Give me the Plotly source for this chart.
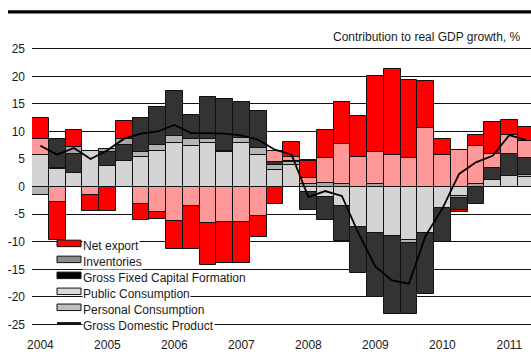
import plotly.graph_objects as go

# Quarterly contributions to real GDP growth, percentage points (2004Q1 .. 2011Q2)
quarters = list(range(30))
year_labels = ["2004", "2005", "2006", "2007", "2008", "2009", "2010", "2011"]
year_ticks = [0, 4, 8, 12, 16, 20, 24, 28]
y_ticks = [25, 20, 15, 10, 5, 0, -5, -10, -15, -20, -25]
y_labels = ["25", "20", "15", "10", "5", "0", "-5", "-10", "-15", "-20", "-25"]

personal = [5.7, 3.2, 2.5, 6.5, 3.8, 4.6, 5.4, 6.5, 8.0, 7.4,
            8.0, 6.3, 8.0, 5.8, 3.0, 4.0, -1.0, -1.9, -3.6, -7.4,
            -8.45, -8.9, -9.65, -8.45, -3.9, -1.75, 0.0, 1.2, 2.0, 1.8]
public = [-1.5, 0.2, 0.0, 0.0, 0.0, 0.0, 0.8, 1.1, 1.2, 1.2,
          0.6, 0.2, 0.8, 1.2, 1.0, 0.4, 0.0, 0.0, 0.0, 0.0,
          0.0, 0.0, -0.6, 0.0, 0.0, -0.3, 0.0, 0.0, 0.0, 0.3]
gfcf = [0.0, 5.3, 3.4, 0.0, 2.4, 3.0, 6.3, 6.9, 8.2, 4.4,
        7.7, 9.4, 6.6, 6.8, 0.4, 0.3, -3.2, -4.1, -6.3, -8.3,
        -11.5, -14.2, -12.8, -11.1, -6.2, -2.1, -3.1, 2.1, 3.9, 3.1]
inventories = [0.0, 0.0, 1.2, 0.0, 0.6, 1.0, 0.0, 0.0, 0.0, 0.0,
               0.0, 0.0, 0.0, 0.0, 0.0, 0.0, 0.5, 0.6, 0.5, 0.0,
               0.4, 0.0, 0.0, 0.0, 0.0, 0.0, 0.5, 0.0, 0.0, 0.0]
other = [3.0, -2.7, 0.0, -1.45, 0.0, 0.0, -3.1, -4.65, -6.2, -3.6,
         -6.65, -6.45, -6.35, -5.25, 2.1, 0.7, 1.0, 4.6, 7.2, 5.3,
         5.8, 5.8, 5.2, 10.6, 5.7, 6.6, 6.9, 2.6, 3.4, 3.1]
net_export = [3.8, -7.0, 3.1, -3.0, -4.5, 3.3, -3.0, -1.2, -5.1, -7.7,
              -7.5, -7.4, -7.55, -3.8, -3.1, 2.7, 3.1, 5.1, 7.6, 7.5,
              13.9, 15.5, 14.2, 8.5, 3.0, -0.5, 2.0, 5.9, 2.7, 2.6]
gdp = [7.4, 5.8, 7.0, 5.0, 6.6, 8.7, 9.6, 10.0, 11.2, 9.7,
       9.7, 9.6, 9.3, 8.5, 6.7, 5.8, -1.9, -0.8, -1.7, -8.5,
       -14.5, -17.0, -17.6, -8.9, -4.0, 2.3, 4.4, 5.6, 9.35, 8.45]

# canvas geometry (pixels) used to place the decorations in paper space
W, H = 531, 359
L, R, T, B = 32, 0, 45.5, 29
PW, PH = W - L - R, H - T - B


def px(x):
    return (x - L) / PW


def py(y):
    return (H - B - y) / PH


OUT = "#111111"
fig = go.Figure()
series = [
    ("Personal Consumption", personal, "#D4D4D4"),
    ("Public Consumption", public, "#B4B4B4"),
    ("Gross Fixed Capital Formation", gfcf, "#333333"),
    ("Inventories", inventories, "#A6A6A6"),
    ("Other", other, "#FF9999"),
    ("Net export", net_export, "#FF0000"),
]
for name, vals, col in series:
    fig.add_trace(go.Bar(
        x=quarters, y=vals, name=name, width=1.0,
        marker=dict(color=col, line=dict(color=OUT, width=1)),
        showlegend=False,
    ))
fig.add_trace(go.Scatter(
    x=quarters, y=gdp, name="Gross Domestic Product", mode="lines",
    line=dict(color="#000000", width=1.8), showlegend=False,
))

# hand-placed legend in the lower-left corner
legend_rows = [
    ("Net export", "#FF0000", "box"),
    ("Inventories", "#8C8C8C", "box"),
    ("Gross Fixed Capital Formation", "#000000", "box"),
    ("Public Consumption", "#D9D9D9", "box"),
    ("Personal Consumption", "#BFBFBF", "box"),
    ("Gross Domestic Product", "#000000", "line"),
]
shapes = []
annotations = []
row_y0, row_step = 245.5, 16.0
for i, (label, col, kind) in enumerate(legend_rows):
    cy = row_y0 + i * row_step
    if kind == "box":
        shapes.append(dict(type="rect", xref="paper", yref="paper",
                           x0=px(57), x1=px(81), y0=py(cy - 5.5), y1=py(cy + 1),
                           fillcolor=col, line=dict(color=OUT, width=1), layer="above"))
    else:
        shapes.append(dict(type="line", xref="paper", yref="paper",
                           x0=px(57), x1=px(81), y0=py(cy - 2.5), y1=py(cy - 2.5),
                           line=dict(color=col, width=1.8), layer="above"))
    annotations.append(dict(text=label, xref="paper", yref="paper",
                            x=px(82), y=py(cy), xanchor="left", yanchor="middle",
                            showarrow=False, bgcolor="#FFFFFF", borderpad=0,
                            font=dict(size=12, color="#1A1A1A",
                                      family="Liberation Sans, Arial, sans-serif")))

# header rule and caption
shapes.append(dict(type="line", xref="paper", yref="paper",
                   x0=px(8), x1=px(531), y0=py(11.3), y1=py(11.3),
                   line=dict(color="#000000", width=3.3)))
annotations.append(dict(text="Contribution to real GDP growth, %", xref="paper", yref="paper",
                        x=px(523), y=py(36.5), xanchor="right", yanchor="middle",
                        showarrow=False,
                        font=dict(size=12, color="#1A1A1A",
                                  family="Liberation Sans, Arial, sans-serif")))

fig.update_layout(
    width=W, height=H,
    margin=dict(l=L, r=R, t=T, b=B, pad=0),
    barmode="relative", bargap=0,
    plot_bgcolor="#FFFFFF", paper_bgcolor="#FFFFFF",
    font=dict(family="Liberation Sans, Arial, sans-serif", size=12, color="#1A1A1A"),
    shapes=shapes, annotations=annotations,
    showlegend=False,
    xaxis=dict(range=[-0.5, -0.5 + PW / 16.75], tickvals=year_ticks, ticktext=year_labels,
               showgrid=False, zeroline=False, showline=False, ticks="",
               ticklabelstandoff=6, fixedrange=True),
    yaxis=dict(range=[-26, 25.5], tickvals=y_ticks, ticktext=y_labels,
               showgrid=True, gridcolor="#111111", gridwidth=1.2,
               zeroline=False, showline=False, ticks="", ticklabelstandoff=6,
               fixedrange=True),
)

fig.write_html("out.html", include_plotlyjs=True, config={"displayModeBar": False})
